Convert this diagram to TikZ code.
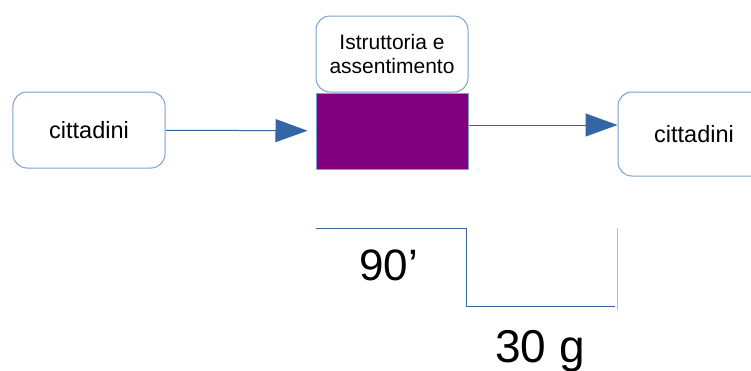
\documentclass[tikz,border=0pt]{standalone}
\usepackage{fontspec}
\setmainfont{Liberation Sans}
\usetikzlibrary{positioning}
\usetikzlibrary{arrows.meta}
\definecolor{boxline}{HTML}{7A9FD0}
\definecolor{flowblue}{HTML}{3465A4}
\definecolor{tickblue}{HTML}{A3BDE3}
\definecolor{attpurple}{HTML}{800080}

\begin{document}
\begin{tikzpicture}[x=1bp, y=-1bp,
      box/.style = {draw=boxline, line width=1bp, rounded corners=14bp,
                    minimum width=152bp, minimum height=76bp, inner sep=0pt,
                    align=center, font=\fontsize{23.5bp}{26bp}\selectfont},
     flow/.style = {draw=flowblue, line width=1bp,
                    -{Triangle[length=32bp, width=23bp]}},
  stepline/.style = {draw=flowblue, line width=1bp}]
  \useasboundingbox (0,0) rectangle (751,370);
  \node[box] (c0) at (89,130) {cittadini};
  \node[box, font=\fontsize{21bp}{23.5bp}\selectfont] (ist) at (392,54) {Istruttoria e\\assentimento};
  \node[draw=boxline, line width=1bp, fill=attpurple, minimum width=152bp,
        minimum height=76bp, inner sep=0pt, below=0pt of ist] (att) {};
  \node[box, minimum height=84bp] (c1) at (694,134) {cittadini};
  \draw[flow, shorten >=8bp] (c0) -- (att);
  \draw[flow] ([yshift=6bp]att.east) coordinate (a2) -- (a2 -| c1.west);
  % tempi
  \coordinate (s0) at (316,228);
  \coordinate (s1) at (466,306);
  \draw[stepline] (s0) -- (s0 -| s1) -- (s1) -- ([xshift=-3bp]s1 -| c1.west);
  \draw[draw=tickblue, line width=1.2bp] (c1.west |- s0) -- ([yshift=-4bp]c1.west |- s1);
  \node[anchor=base west, inner sep=0pt, font=\fontsize{44bp}{48bp}\selectfont] (t90) at (359,280) {90’};
  \node[anchor=base west, inner sep=0pt, font=\fontsize{46bp}{50bp}\selectfont] (t30) at (495,362) {30 g};
\end{tikzpicture}
\end{document}
